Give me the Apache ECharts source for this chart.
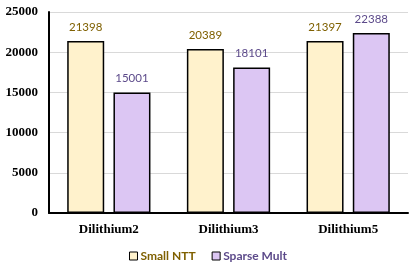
<!DOCTYPE html>
<html><head><meta charset="utf-8">
<script src="https://cdn.jsdelivr.net/npm/echarts@6/dist/echarts.min.js"></script>
<style>html,body{margin:0;padding:0;background:#fff}#c{width:416px;height:273px}</style>
</head><body><div id="c"></div>
<script>
const categories = ['Dilithium2', 'Dilithium3', 'Dilithium5'];
const smallNTT = [21398, 20389, 21397];
const sparseMult = [15001, 18101, 22388];
const yTicks = [0, 5000, 10000, 15000, 20000, 25000];

const chart = echarts.init(document.getElementById('c'));
chart.setOption({
  animation: false,
  grid: { left: 49, right: 8, top: 12, bottom: 60, containLabel: false },
  legend: {
    bottom: 6, left: 'center', itemWidth: 8, itemHeight: 8, itemGap: 16,
    icon: 'rect',
    textStyle: { fontFamily: 'Lato, sans-serif', fontWeight: 'bold', fontSize: 12, padding: [0, 0, 0, -2] },
    data: [
      { name: 'Small NTT', textStyle: { color: '#7f6000' }, itemStyle: { borderColor: '#000', borderWidth: 1 } },
      { name: 'Sparse Mult', textStyle: { color: '#5c4a8a' }, itemStyle: { borderColor: '#000', borderWidth: 1 } }
    ]
  },
  xAxis: {
    type: 'category', data: categories,
    axisLine: { lineStyle: { color: '#000', width: 2 } },
    axisTick: { show: false },
    axisLabel: { fontFamily: 'Liberation Serif, serif', fontWeight: 'bold', fontSize: 13, color: '#000', margin: 10 }
  },
  yAxis: {
    type: 'value', min: yTicks[0], max: yTicks[yTicks.length - 1], interval: 5000,
    axisLine: { show: true, lineStyle: { color: '#000', width: 2 } },
    axisTick: { show: false },
    splitLine: { lineStyle: { color: '#d9d9d9', width: 1 } },
    axisLabel: { fontFamily: 'Liberation Serif, serif', fontWeight: 'bold', fontSize: 13, color: '#000', margin: 11,
      formatter: v => String(v) }
  },
  series: [
    {
      name: 'Small NTT', type: 'bar', data: smallNTT, barWidth: 37, barGap: '25%',
      itemStyle: { color: '#fff2cc', borderColor: '#000', borderWidth: 1.5 },
      label: { show: true, position: 'top', distance: 8, color: '#7f6000', fontFamily: 'Lato, sans-serif', fontSize: 11.5 }
    },
    {
      name: 'Sparse Mult', type: 'bar', data: sparseMult, barWidth: 37,
      itemStyle: { color: '#dcc6f3', borderColor: '#000', borderWidth: 1.5 },
      label: { show: true, position: 'top', distance: 8, color: '#5c4a8a', fontFamily: 'Lato, sans-serif', fontSize: 11.5 }
    }
  ]
});
</script></body></html>
